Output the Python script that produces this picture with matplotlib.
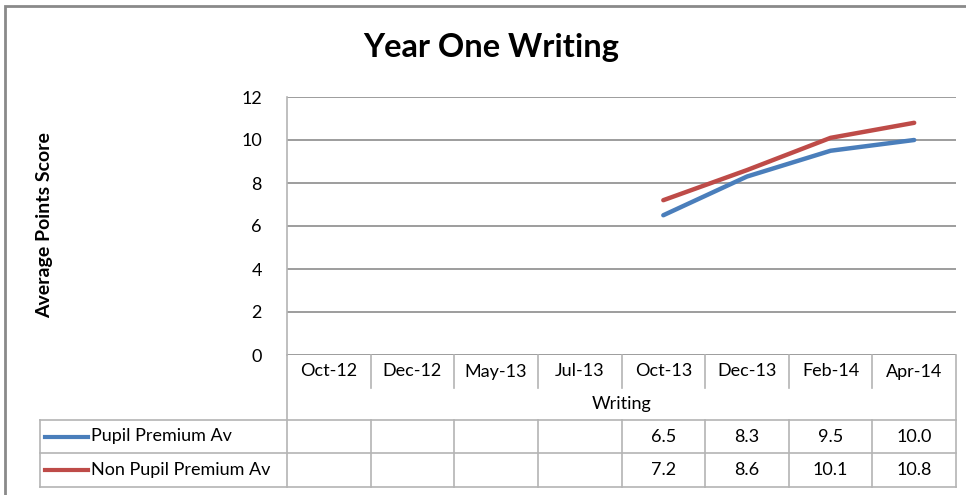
import matplotlib
matplotlib.use('Agg')
import matplotlib.pyplot as plt
import matplotlib.transforms as mtransforms
from matplotlib.lines import Line2D
import numpy as np

plt.rcParams['font.family'] = ['Lato', 'DejaVu Sans']

# Data
months = ['Oct-12', 'Dec-12', 'May-13', 'Jul-13', 'Oct-13', 'Dec-13', 'Feb-14', 'Apr-14']
pupil_premium = [np.nan, np.nan, np.nan, np.nan, 6.5, 8.3, 9.5, 10.0]
non_pupil_premium = [np.nan, np.nan, np.nan, np.nan, 7.2, 8.6, 10.1, 10.8]
series_names = ['Pupil Premium Av', 'Non Pupil Premium Av']
y_ticks = [0, 2, 4, 6, 8, 10, 12]

BLUE = '#4a7ebb'
RED = '#be4b48'
GRID = '#8c8c8c'
TABLE = '#b4b4b4'
FS = 13

W, H = 966, 495
fig = plt.figure(figsize=(W / 100, H / 100), dpi=100)

def fy(y):
    return 1 - y / H

def fx(x):
    return x / W

# outer chart border (cut off on right/bottom as in the screenshot)
fig.add_artist(plt.Rectangle((fx(5), -0.02), 1.05, fy(6) + 0.02, transform=fig.transFigure,
                             fill=False, edgecolor='#8a8a8a', linewidth=2))

left, right, top, bottom = 287, 956, 97, 355
ax = fig.add_axes([fx(left), fy(bottom), fx(right - left), (bottom - top) / H])
x = np.arange(len(months))
ax.plot(x, pupil_premium, color=BLUE, linewidth=3.2, solid_capstyle='round')
ax.plot(x, non_pupil_premium, color=RED, linewidth=3.2, solid_capstyle='round')
ax.set_xlim(-0.5, len(months) - 0.5)
ax.set_ylim(0, 12)
ax.set_yticks(y_ticks)
ax.set_yticklabels([str(v) for v in y_ticks], fontsize=FS)
ax.tick_params(axis='y', length=0, pad=18)
ax.set_xticks([])
for s in ['top', 'right', 'bottom']:
    ax.spines[s].set_visible(False)
ax.spines['left'].set_color(TABLE)
ax.spines['left'].set_linewidth(1.2)
ax.yaxis.grid(True, color=GRID, linewidth=1.2)
ax.set_axisbelow(True)

fig.text(fx(491), fy(48), 'Year One Writing', ha='center', va='center',
         fontsize=23.5, fontweight='bold')
fig.text(fx(45), fy(225), 'Average Points Score', ha='center', va='center',
         rotation=90, fontsize=14, fontweight='bold')

# data table: x in data coords of ax, y in figure coords
trans = mtransforms.blended_transform_factory(ax.transData, fig.transFigure)
ftr = fig.transFigure

def hline(y, x0, x1):
    fig.add_artist(Line2D([fx(x0), fx(x1)], [fy(y), fy(y)], transform=ftr,
                          color=TABLE, linewidth=1.2))

def vline_data(xd, y0, y1):
    fig.add_artist(Line2D([xd, xd], [fy(y0), fy(y1)], transform=trans,
                          color=TABLE, linewidth=1.2))

r_cat, r_axis, r_s1, r_s2 = 388, 420, 453, 487
hline(r_axis, 40, right)
hline(r_s1, 40, right)
hline(r_s2, 40, right)
fig.add_artist(Line2D([fx(40), fx(40)], [fy(r_axis), fy(r_s2)], transform=ftr, color=TABLE, linewidth=1.2))
fig.add_artist(Line2D([fx(left), fx(left)], [fy(bottom), fy(r_s2)], transform=ftr, color=TABLE, linewidth=1.2))
fig.add_artist(Line2D([fx(right), fx(right)], [fy(bottom), fy(r_s2)], transform=ftr, color=TABLE, linewidth=1.2))
for k in range(1, len(months)):
    vline_data(k - 0.5, bottom, r_cat)
    vline_data(k - 0.5, r_axis, r_s2)

for i, m in enumerate(months):
    fig.text(i, fy((bottom + r_cat) / 2), m, transform=trans, ha='center', va='center', fontsize=FS)
fig.text(fx((left + right) / 2), fy((r_cat + r_axis) / 2), 'Writing', ha='center', va='center', fontsize=FS)

rows = [(pupil_premium, BLUE, r_axis, r_s1), (non_pupil_premium, RED, r_s1, r_s2)]
for name, (vals, col, y0, y1) in zip(series_names, rows):
    yc = fy((y0 + y1) / 2)
    fig.add_artist(Line2D([fx(45), fx(88)], [yc, yc], transform=ftr, color=col, linewidth=3))
    fig.text(fx(91), yc, name, ha='left', va='center', fontsize=FS)
    for i, v in enumerate(vals):
        if not np.isnan(v):
            fig.text(i, yc, f'{v:.1f}', transform=trans, ha='center', va='center', fontsize=FS)

fig.savefig('out.png', dpi=100, facecolor='white')
